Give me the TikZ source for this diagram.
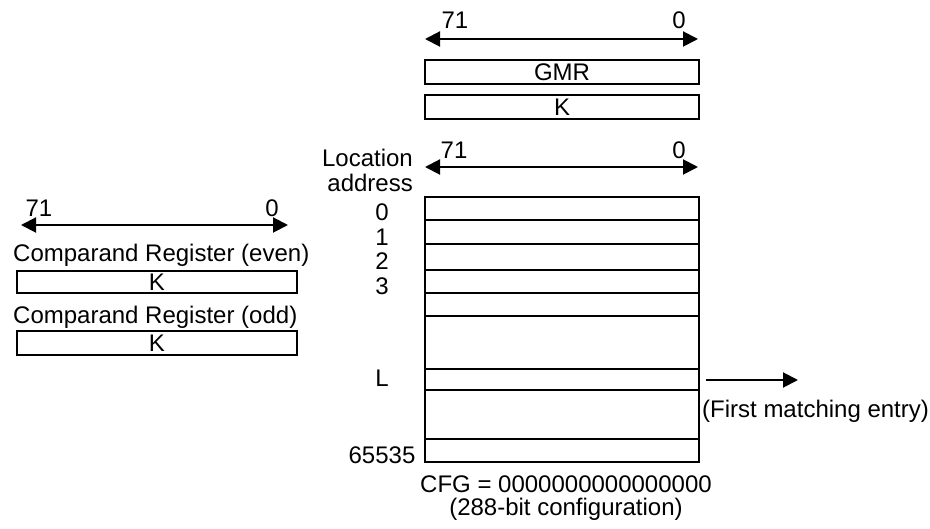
\documentclass[tikz,border=0pt]{standalone}
\usepackage{fontspec}
\setmainfont{Liberation Sans}
\usetikzlibrary{arrows.meta}
\begin{document}
\begin{tikzpicture}[x=1pt,y=-1pt,
  txt/.style={inner sep=0pt, font=\fontsize{24}{25}\selectfont},
  regbox/.style={draw, line width=2pt, inner sep=0pt, font=\fontsize{24}{25}\selectfont},
  rowbox/.style={draw, line width=2pt, inner sep=0pt, minimum width=274pt, minimum height=#1},
  dimarrow/.style={line width=2pt, {Triangle[length=15pt,width=15pt]}-{Triangle[length=15pt,width=15pt]}},
  outarrow/.style={line width=2pt, -{Triangle[length=15pt,width=15pt]}}
]
\useasboundingbox (0,0) rectangle (930,529);

% top register block
\coordinate (t1l) at (425,39);
\coordinate (t1r) at (698,39);
\draw[dimarrow] (t1l) -- (t1r);
\node[txt] (t1a) at (455,20) {71};
\node[txt] (t1b) at (679,20) {0};
\node[regbox, minimum width=274pt, minimum height=24pt] (gmr) at (562,72.5) {GMR};
\node[regbox, minimum width=274pt, minimum height=24pt] (kreg) at (562,107) {K};

% table header arrow
\coordinate (t2l) at (425,167);
\coordinate (t2r) at (698,167);
\draw[dimarrow] (t2l) -- (t2r);
\node[txt] (t2a) at (454,150) {71};
\node[txt] (t2b) at (679,150) {0};
\node[txt, align=right, anchor=east] (loc) at (413,170) {Location\\address};

% table rows
\node[rowbox=23pt] (r0) at (562,208.5) {};
\node[rowbox=24pt] (r1) at (562,232) {};
\node[rowbox=26pt] (r2) at (562,257) {};
\node[rowbox=23pt] (r3) at (562,281.5) {};
\node[rowbox=23pt] (r4) at (562,304.5) {};
\node[rowbox=53pt] (r5) at (562,342.5) {};
\node[rowbox=21pt] (r6) at (562,379.5) {};
\node[rowbox=49pt] (r7) at (562,414.5) {};
\node[rowbox=23pt] (r8) at (562,450.5) {};

% row labels
\node[txt] (l0) at (382,212) {0};
\node[txt] (l1) at (382,237) {1};
\node[txt] (l2) at (382,261) {2};
\node[txt] (l3) at (382,286) {3};
\node[txt] (lL) at (382,378) {L};
\node[txt] (l65535) at (382,455) {65535};

% first matching entry
\coordinate (fmE) at (798,380);
\draw[outarrow] ([xshift=6pt,yshift=-0.5pt]r6.east) -- (fmE);
\node[txt, anchor=west] (fm) at (702,411) {(First matching entry)};

% CFG text
\node[txt] (cfg) at (566,484) {CFG = 0000000000000000};
\node[txt] (cfgb) at (566,509) {(288-bit configuration)};

% left comparand block
\coordinate (cl) at (21,225);
\coordinate (cr) at (288,225);
\draw[dimarrow] (cl) -- (cr);
\node[txt] (ca) at (39,208) {71};
\node[txt] (cb) at (272,208) {0};
\node[txt, anchor=west] (ceven) at (13,255) {Comparand Register (even)};
\node[regbox, minimum width=280pt, minimum height=22.5pt] (keven) at (157,282) {K};
\node[txt, anchor=west] (codd) at (13,317) {Comparand Register (odd)};
\node[regbox, minimum width=280pt, minimum height=24pt] (kodd) at (157,343) {K};
\end{tikzpicture}
\end{document}
